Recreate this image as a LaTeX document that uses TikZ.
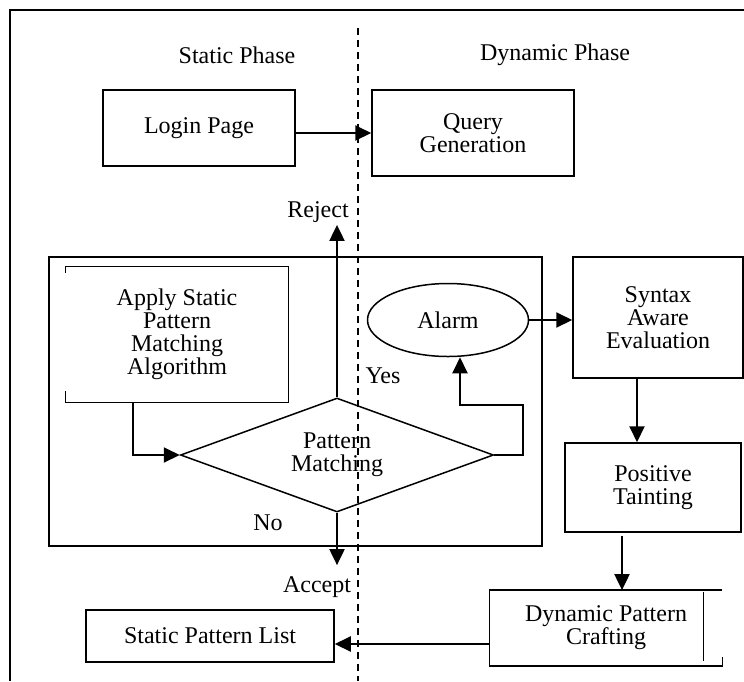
\documentclass[tikz,border=0pt]{standalone}
\usepackage{fontspec}
\setmainfont{Liberation Serif}
\usetikzlibrary{arrows.meta, shapes.geometric, calc}

\begin{document}
\begin{tikzpicture}[x=0.5pt, y=-0.5pt, >={Triangle[length=8pt,width=7.5pt]},
  font=\fontsize{12}{11.5}\selectfont,
  box/.style={draw, line width=0.75pt, align=center, inner sep=0pt},
  lbl/.style={inner sep=1pt},
  flow/.style={->, line width=1pt}]
\useasboundingbox (0,0) rectangle (744,681);
% frame and phase separator
\draw[line width=0.9pt] (10,681) -- (10,10) -- (744,10);
\draw[line width=0.7pt, dash pattern=on 3.5pt off 2.5pt] (358,28) -- (358,681);
\node[lbl] (sp) at (237,55) {Static Phase};
\node[lbl] (dp) at (555,55) {Dynamic Phase};

\node[box, minimum width=96pt, minimum height=38pt] (login) at (199,128) {Login Page};
\node[box, minimum width=101pt, minimum height=43pt] (query) at (473,133) {Query\\Generation};

% static checking block
\node[draw, line width=0.75pt, minimum width=246.5pt, minimum height=144.5pt] (core) at (295.5,401.5) {};
\node[align=center, inner sep=0pt, minimum width=111pt, minimum height=67.5pt] (apply) at (177,334.5) {Apply Static\\Pattern\\Matching\\Algorithm};
\draw[line width=0.75pt] ($(apply.north west)+(0,6)$) -- (apply.north west) -- (apply.north east)
  -- (apply.south east) -- (apply.south west) -- ++(0,-11);
\node[box, diamond, aspect=2.75, minimum width=156.5pt, minimum height=57pt] (pm) at (337,455) {Pattern\\Matching};
\node[box, ellipse, minimum width=80.5pt, minimum height=36.5pt] (alarm) at (448,320) {Alarm};

\node[lbl] (reject) at (318,212) {Reject};
\node[lbl] (yes) at (383,376) {Yes};
\node[lbl] (no) at (268,523) {No};
\node[lbl] (accept) at (317,587) {Accept};

% dynamic side
\node[box, minimum width=85pt, minimum height=60.5pt] (syntax) at (658,317.5) {Syntax\\Aware\\Evaluation};
\node[box, minimum width=88pt, minimum height=44.5pt] (positive) at (653,487.5) {Positive\\Tainting};
\node[align=center, inner sep=0pt, minimum width=116pt, minimum height=37.5pt] (craft) at (606,628) {Dynamic Pattern\\Crafting};
\draw[line width=0.75pt] (craft.north east) -- (craft.north west) -- (craft.south west) -- (craft.south east) -- ++(0,-9);
\draw[line width=0.75pt] ($(craft.north east)+(-19,2)$) -- ($(craft.south east)+(-19,-5)$);
\node[box, minimum width=124pt, minimum height=26pt] (list) at (210,636) {Static Pattern List};

\draw[flow] (login.east |- query.west) -- (query.west);
\draw[flow] (pm.north) -- (pm.north |- reject.south);
\draw[flow] ($(apply.south)+(-44,0)$) |- (pm.west);
\draw[flow] (pm.south) -- ($(pm.south |- accept.north)+(0,-9)$);
\draw[flow] (pm.east) -- ++(29,0) -- ++(0,-50) -| ($(alarm.south)+(12,0)$);
\draw[flow] (alarm.east) -- (alarm.east -| syntax.west);
\draw[flow] ($(syntax.south)+(-21,0)$) -- ($(syntax.south |- positive.north)+(-21,0)$);
\draw[flow] ($(positive.south)+(-31,3)$) -- ($(positive.south |- craft.north)+(-31,0)$);
\draw[flow] ($(craft.west)+(0,16)$) -- ($(craft.west -| list.east)+(0,16)$);
\end{tikzpicture}
\end{document}
